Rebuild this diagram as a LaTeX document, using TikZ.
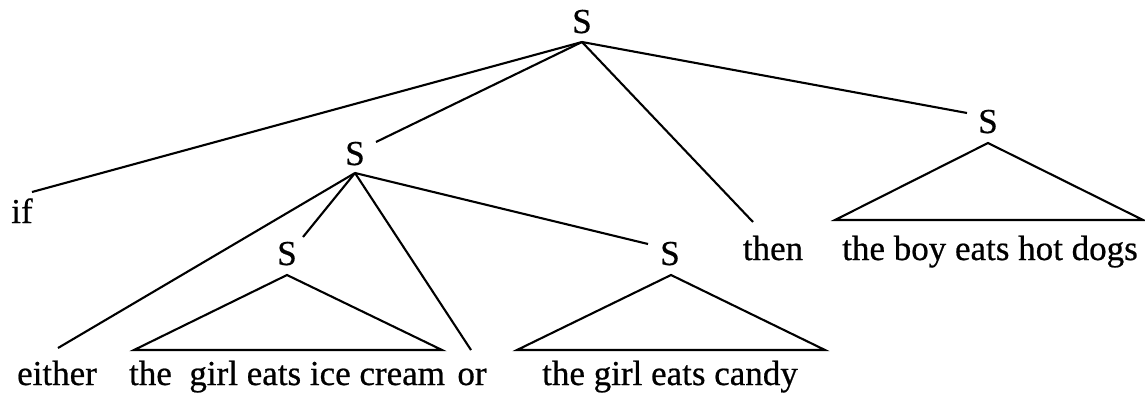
\documentclass[tikz,border=0pt]{standalone}
\usepackage{fontspec}
\setmainfont{Liberation Serif}
\newfontfamily\lblfont{Liberation Serif}[FakeBold=0.6]
\begin{document}
\begin{tikzpicture}[x=1pt,y=-1pt,
  lbl/.style={inner sep=0pt,anchor=base,font=\lblfont\fontsize{35}{40}\selectfont},
  edge/.style={line width=2.1pt,line join=miter}]
\useasboundingbox (0,0) rectangle (1145,394);
% labels
\node[lbl] (S0) at (582,33) {S};
\node[lbl] (S1) at (355,165) {S};
\node[lbl] (S2) at (988,133) {S};
\node[lbl] (S3) at (287,265) {S};
\node[lbl] (S4) at (670,265) {S};
\node[lbl] (wif) at (22,223) {if};
\node[lbl] (wthen) at (773,260) {then};
\node[lbl] (wboy) at (990,260) {the boy eats hot dogs};
\node[lbl] (weither) at (57,385) {either};
\node[lbl] (wice) at (287,385) {the\ \ girl eats ice cream};
\node[lbl] (wor) at (472,385) {or};
\node[lbl] (wcandy) at (670,385) {the girl eats candy};
% connector points
\coordinate (a0) at (582,42);
\coordinate (a1) at (355,173);
\coordinate (a2) at (988,143);
\coordinate (a3) at (287,275);
\coordinate (a4) at (671,275);
\coordinate (eif) at (32,192);
\coordinate (emid) at (376,142);
\coordinate (ethen) at (753,222);
\coordinate (eright) at (967,113);
\coordinate (eeither) at (58,348);
\coordinate (eleft) at (303,237);
\coordinate (eor) at (471,350);
\coordinate (ecandy) at (648,244);
% top S
\draw[edge] (a0) -- (eif);
\draw[edge] (a0) -- (emid);
\draw[edge] (a0) -- (ethen);
\draw[edge] (a0) -- (eright);
% middle S
\draw[edge] (a1) -- (eeither);
\draw[edge] (a1) -- (eleft);
\draw[edge] (a1) -- (eor);
\draw[edge] (a1) -- (ecandy);
% triangles
\draw[edge] (134,350) -- (a3) -- (442,350) -- cycle;
\draw[edge] (517,350) -- (a4) -- (825,350) -- cycle;
\draw[edge] (835,220) -- (a2) -- (1143,220) -- cycle;
\end{tikzpicture}
\end{document}
